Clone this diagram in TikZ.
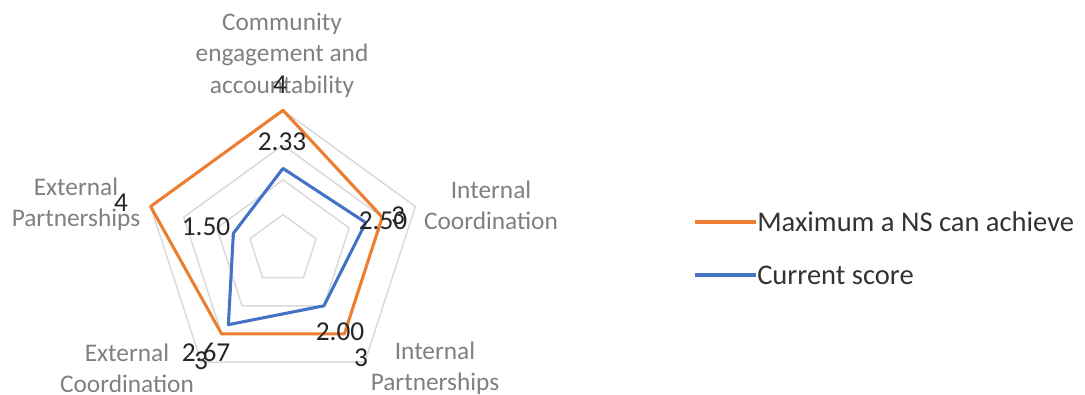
\documentclass[tikz,border=0pt]{standalone}
\usepackage{fontspec}
\setmainfont{Carlito}
\definecolor{maxorange}{HTML}{ED7D31}
\definecolor{curblue}{HTML}{4472C4}
\definecolor{gridgrey}{HTML}{D9D9D9}
\definecolor{catgrey}{HTML}{808080}
\definecolor{valdark}{HTML}{262626}
\definecolor{legdark}{HTML}{333333}
\begin{document}
\begin{tikzpicture}[x=0.75pt,y=0.75pt,
  gridline/.style={draw=gridgrey,line width=1.1pt,line join=round},
  maxline/.style={draw=maxorange,line width=2.3pt,line join=round},
  curline/.style={draw=curblue,line width=2.3pt,line join=round},
  catlabel/.style={text=catgrey,align=center,inner sep=0pt,font=\fontsize{19}{23.5}\selectfont},
  vallabel/.style={text=valdark,inner sep=0pt,font=\fontsize{20.5}{24}\selectfont},
  legtext/.style={text=legdark,inner sep=0pt,anchor=west,font=\fontsize{21.4}{25}\selectfont}]
\useasboundingbox (0,0) rectangle (1085,394);

% radar grid and the two series, axes clockwise from the top
\begin{scope}[shift={(283,144.5)}]
  \foreach \r in {1,...,4}{
    \draw[gridline] (90:{\r*34.8}) -- (18:{\r*34.8}) -- (-54:{\r*34.8})
      -- (-126:{\r*34.8}) -- (162:{\r*34.8}) -- cycle;
  }
  \foreach \v [count=\i] in {4,3,3,3,4}
    \coordinate (m\i) at ({90-72*(\i-1)}:{\v*34.8});
  \foreach \v [count=\i] in {2.33,2.5,2,2.67,1.5}
    \coordinate (c\i) at ({90-72*(\i-1)}:{\v*34.8});
\end{scope}
\draw[maxline] (m1) -- (m2) -- (m3) -- (m4) -- (m5) -- cycle;
\draw[curline] (c1) -- (c2) -- (c3) -- (c4) -- (c5) -- cycle;

% category names
\node[catlabel] (cat1) at (282,339) {Community\\engagement and\\accountability};
\node[catlabel] (cat2) at (491,189) {Internal\\Coordination};
\node[catlabel] (cat3) at (435,25.5) {Internal\\Partnerships};
\node[catlabel] (cat4) at (127,26) {External\\Coordination};
\node[catlabel] (cat5) at (76,189.5) {External\\Partnerships};

% data labels
\node[vallabel] (vm1) at (280,309) {4};
\node[vallabel] (vc1) at (282,252) {2.33};
\node[vallabel] (vc2) at (383,173) {2.50};
\node[vallabel] (vm2) at (398,178) {3};
\node[vallabel] (vc3) at (340,62) {2.00};
\node[vallabel] (vm3) at (361,36) {3};
\node[vallabel] (vc4) at (206,42) {2.67};
\node[vallabel] (vm4) at (201,33) {3};
\node[vallabel] (vm5) at (121,191) {4};
\node[vallabel] (vc5) at (206,167) {1.50};

% legend
\node[legtext] (legmax) at (757,172) {Maximum a NS can achieve};
\coordinate (legmaxstart) at (695,172);
\draw[maxline] (legmaxstart) -- ([xshift=-1pt]legmax.west);
\node[legtext] (legcur) at (757,119) {Current score};
\coordinate (legcurstart) at (695,119);
\draw[curline] (legcurstart) -- ([xshift=-1pt]legcur.west);
\end{tikzpicture}
\end{document}
